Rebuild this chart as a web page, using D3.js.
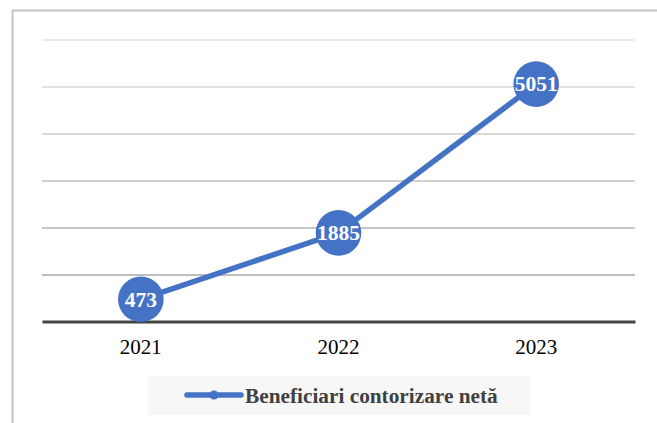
<!DOCTYPE html>
<html>
<head>
<meta charset="utf-8">
<script src="https://cdn.jsdelivr.net/npm/d3@7"></script>
<style>
  html, body { margin: 0; padding: 0; background: #fff; }
  svg { display: block; }
  svg text { font-family: "Liberation Serif", "Times New Roman", Times, "DejaVu Serif", serif; }
</style>
</head>
<body>
<svg id="chart" width="657" height="423"></svg>
<script>
// Data
const years = ["2021", "2022", "2023"];
const beneficiari = [473, 1885, 5051];
const yTicks = [0, 1000, 2000, 3000, 4000, 5000, 6000];
const seriesName = "Beneficiari contorizare netă";

const svg = d3.select("#chart");
const W = 657, H = 423;
const plot = { left: 42, right: 635, top: 39.5, bottom: 321.5 };
const blue = "#4472C4";

// Outer frame
svg.append("rect")
  .attr("x", 12.5).attr("y", 10.5)
  .attr("width", W).attr("height", H)
  .attr("fill", "#fff")
  .attr("stroke", "#c4c4c4")
  .attr("stroke-width", 2);

const x = d3.scaleBand().domain(years).range([plot.left, plot.right]);
const y = d3.scaleLinear().domain([0, 6000]).range([plot.bottom, plot.top]);

// Horizontal gridlines, fading lighter toward the top
const gridShade = d3.scaleLinear().domain([1000, 6000]).range(["#a8a8a8", "#e4e4e4"]);
const yAxis = d3.axisLeft(y).tickValues(yTicks.filter(v => v > 0))
  .tickSize(-(plot.right - plot.left)).tickFormat("");
const gy = svg.append("g")
  .attr("transform", `translate(${plot.left},0)`)
  .call(yAxis);
gy.select(".domain").remove();
gy.selectAll(".tick line")
  .attr("stroke", d => gridShade(d))
  .attr("stroke-width", 1.3);

// Category axis
const xAxis = d3.axisBottom(x).tickSize(0).tickPadding(17.5);
const gx = svg.append("g")
  .attr("transform", `translate(0,${y(0)})`)
  .call(xAxis);
gx.attr("font-family", null);
gx.select(".domain").attr("stroke", "#444").attr("stroke-width", 3.2);
gx.selectAll(".tick text")
  .attr("font-size", 21)
  .attr("fill", "#000");

// Series line
const cx = d => x(d) + x.bandwidth() / 2;
const line = d3.line()
  .x((d, i) => cx(years[i]))
  .y(d => y(d));
svg.append("path")
  .datum(beneficiari)
  .attr("d", line)
  .attr("fill", "none")
  .attr("stroke", blue)
  .attr("stroke-width", 5.5)
  .attr("stroke-linecap", "round");

// Value bubbles
const pts = svg.append("g").selectAll("g")
  .data(beneficiari)
  .join("g")
  .attr("transform", (d, i) => `translate(${cx(years[i])},${y(d)})`);
pts.append("circle")
  .attr("r", 22.8)
  .attr("fill", blue);
pts.append("text")
  .text(d => d)
  .attr("text-anchor", "middle")
  .attr("dy", "0.34em")
  .attr("font-weight", "bold")
  .attr("font-size", 21.5)
  .attr("fill", "#fff");

// Legend
const lg = svg.append("g");
lg.append("rect")
  .attr("x", 148).attr("y", 376)
  .attr("width", 382).attr("height", 39)
  .attr("fill", "#f7f7f7");
lg.append("line")
  .attr("x1", 187).attr("x2", 241)
  .attr("y1", 395).attr("y2", 395)
  .attr("stroke", blue)
  .attr("stroke-width", 5.5)
  .attr("stroke-linecap", "round");
lg.append("circle")
  .attr("cx", 214).attr("cy", 395).attr("r", 4.5)
  .attr("fill", blue);
lg.append("text")
  .attr("x", 245).attr("y", 403)
  .attr("font-weight", "bold")
  .attr("font-size", 21.3)
  .attr("fill", "#404040")
  .text(seriesName);
</script>
</body>
</html>
